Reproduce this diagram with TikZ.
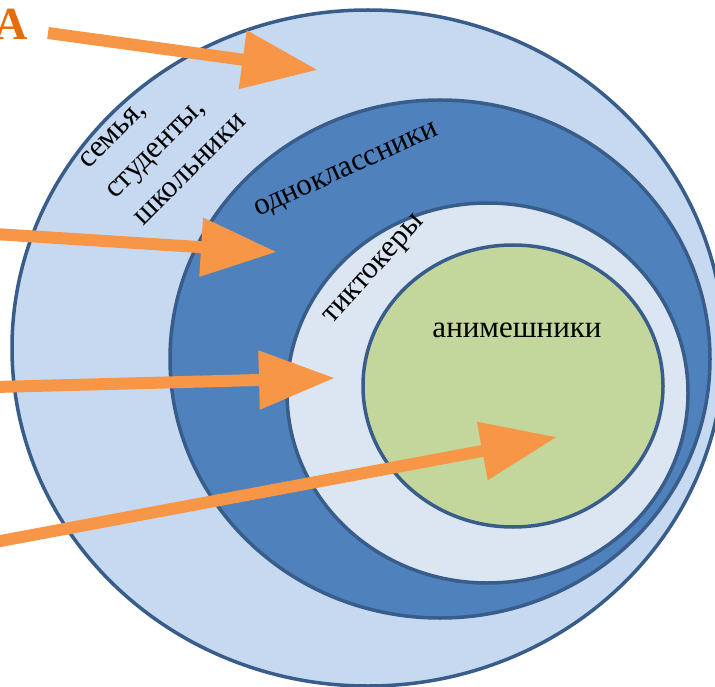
\documentclass[tikz,border=0pt]{standalone}
\usepackage{fontspec}
\setmainfont{Liberation Serif}
\usetikzlibrary{arrows.meta}
\definecolor{ringA}{HTML}{C6D9F1}
\definecolor{ringB}{HTML}{4F81BD}
\definecolor{ringC}{HTML}{DCE6F2}
\definecolor{ringD}{HTML}{C3D69B}
\definecolor{edgec}{HTML}{385D8A}
\definecolor{arrowc}{HTML}{F79646}
\definecolor{letterc}{HTML}{E46C0A}
\begin{document}
\begin{tikzpicture}[x=1pt,y=-1pt,
  ring/.style={draw=edgec, line width=3.5pt},
  pointer/.style={draw=arrowc, line width=12pt, -{Triangle[length=76pt,width=56pt]}},
  lbl/.style={inner sep=0pt, font=\fontsize{31}{37}\selectfont}]
\useasboundingbox (0,0) rectangle (715,687);
\clip (0,0) rectangle (715,687);
\fill[white] (0,0) rectangle (715,687);
% rings
\draw[ring, fill=ringA] (368,348) ellipse [x radius=356pt, y radius=338pt];
\draw[ring, fill=ringB] (440,359) ellipse [x radius=270pt, y radius=259pt];
\draw[ring, fill=ringC] (487.5,393) ellipse [x radius=200.5pt, y radius=190pt];
\draw[ring, fill=ringD] (513,386) ellipse [x radius=150pt, y radius=141pt];
% labels
\node[lbl, anchor=base west, rotate=45] (fam1) at (88,170) {семья,};
\node[lbl, anchor=base west, rotate=45] (fam2) at (115,200) {студенты,};
\node[lbl, anchor=base west, rotate=45] (fam3) at (143,227) {школьники};
\node[lbl, anchor=base west, rotate=24.4] (odn) at (258,217) {одноклассники};
\node[lbl, anchor=base west, rotate=48] (tik) at (332,325) {тиктокеры};
\node[lbl, anchor=base] (ani) at (517,337) {анимешники};
\node[inner sep=0pt, anchor=base east, text=letterc, font=\fontsize{46}{50}\selectfont\bfseries] (A) at (28,40) {А};
% arrows
\coordinate (a1s) at (48,33);  \coordinate (a1e) at (318,70);
\coordinate (a2s) at (-5,234); \coordinate (a2e) at (277,252);
\coordinate (a3s) at (-5,387); \coordinate (a3e) at (335,378);
\coordinate (a4s) at (-5,542); \coordinate (a4e) at (557,437);
\draw[pointer] (a1s) -- (a1e);
\draw[pointer] (a2s) -- (a2e);
\draw[pointer] (a3s) -- (a3e);
\draw[pointer] (a4s) -- (a4e);
\end{tikzpicture}
\end{document}
